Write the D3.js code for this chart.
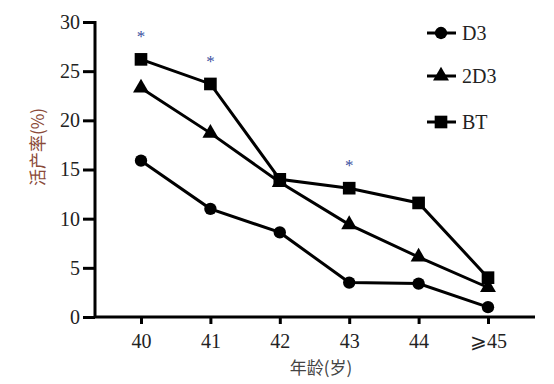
<!DOCTYPE html>
<html lang="zh">
<head>
<meta charset="UTF-8">
<title>活产率</title>
<script src="https://d3js.org/d3.v7.min.js"></script>
<style>
  body { margin: 0; background: #fff; }
</style>
</head>
<body>
<svg width="554" height="384"></svg>
<script>
// data
var ages = ["40", "41", "42", "43", "44", "⩾45"];
var d3Rate  = [15.9, 11.0, 8.6, 3.5, 3.4, 1.0];
var d2Rate  = [23.3, 18.7, 13.7, 9.4, 6.1, 3.0];
var btRate  = [26.2, 23.7, 14.0, 13.1, 11.6, 4.0];
var starAt  = ["40", "41", "43"];
var yTicks  = [0, 5, 10, 15, 20, 25, 30];
var seriesNames = ["D3", "2D3", "BT"];

var SERIF = "'Liberation Serif', serif";
var CJK = "'Noto Sans CJK SC', sans-serif";

var svg = d3.select("svg");
var mLeft = 95, mRight = 535, mTop = 22, mBottom = 317;

var x = d3.scalePoint().domain(ages).range([141, 488]);
var y = d3.scaleLinear().domain([0, 30]).range([mBottom, mTop]);

var series = [
  {name: seriesNames[0], vals: d3Rate, shape: d3.symbolCircle, size: 120},
  {name: seriesNames[1], vals: d2Rate, shape: d3.symbolTriangle, size: 110},
  {name: seriesNames[2], vals: btRate, shape: d3.symbolSquare, size: 160}
];

// y axis
var gy = svg.append("g").attr("transform", "translate(" + mLeft + ",0)")
  .call(d3.axisLeft(y).tickValues(yTicks).tickSize(12).tickPadding(3));
gy.select(".domain").attr("stroke", "#000").attr("stroke-width", 3).attr("d", "M0," + (mTop - 1) + "V" + mBottom);
gy.selectAll(".tick line").attr("stroke-width", 3);
gy.selectAll(".tick text").attr("fill", "#222")
  .style("font-family", SERIF).style("font-size", "20px");

// x axis
var gx = svg.append("g").attr("transform", "translate(0," + mBottom + ")")
  .call(d3.axisBottom(x).tickSize(7).tickPadding(10));
gx.select(".domain").attr("stroke-width", 3).attr("d", "M" + (mLeft - 1) + ",0H" + mRight);
gx.selectAll(".tick line").attr("stroke-width", 3);
gx.selectAll(".tick text").attr("fill", "#222")
  .style("font-family", SERIF).style("font-size", "20px");

// axis titles
svg.append("text")
  .attr("transform", "translate(44,147) rotate(-90)")
  .attr("text-anchor", "middle").attr("fill", "#8a4a38")
  .style("font-family", CJK).style("font-size", "17px")
  .text("活产率(%)");
svg.append("text")
  .attr("x", 321).attr("y", 374).attr("text-anchor", "middle").attr("fill", "#444")
  .style("font-family", CJK).style("font-size", "17px")
  .text("年龄(岁)");

// lines + markers
var line = d3.line().x(function(d, i) { return x(ages[i]); }).y(function(d) { return y(d); });
series.forEach(function(s) {
  svg.append("path").datum(s.vals).attr("d", line)
    .attr("fill", "none").attr("stroke", "#000").attr("stroke-width", 3);
  svg.selectAll(null).data(s.vals).enter().append("path")
    .attr("d", d3.symbol().type(s.shape).size(s.size))
    .attr("transform", function(d, i) { return "translate(" + x(ages[i]) + "," + y(d) + ")"; })
    .attr("fill", "#000");
});

// significance stars
svg.selectAll(".star").data(starAt).enter().append("text")
  .attr("class", "star")
  .attr("x", function(a) { return x(a); })
  .attr("y", function(a) { return y(btRate[ages.indexOf(a)]) - 17; })
  .attr("text-anchor", "middle").attr("fill", "#3a4fa0")
  .style("font-family", SERIF).style("font-size", "17px")
  .text("*");

// legend
var lg = svg.append("g");
series.forEach(function(s, i) {
  var ly = [33, 76, 122][i];
  lg.append("line").attr("x1", 427).attr("x2", 456).attr("y1", ly).attr("y2", ly)
    .attr("stroke", "#000").attr("stroke-width", 3);
  lg.append("path").attr("d", d3.symbol().type(s.shape).size(s.size))
    .attr("transform", "translate(441," + ly + ")");
  lg.append("text").attr("x", 462).attr("y", ly + 7).attr("fill", "#222")
    .style("font-family", SERIF).style("font-size", "20px")
    .text(s.name);
});
</script>
</body>
</html>
